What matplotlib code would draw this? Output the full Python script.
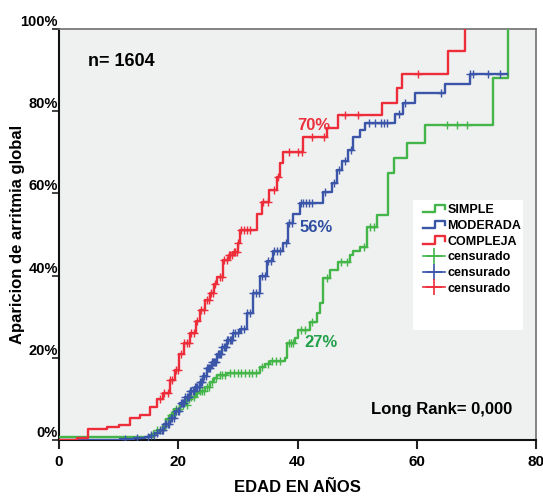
import numpy as np
import matplotlib
matplotlib.use("Agg")
import matplotlib.pyplot as plt
from matplotlib.lines import Line2D
from matplotlib.patches import Rectangle
from matplotlib.legend_handler import HandlerBase

plt.rcParams['font.family'] = ['Liberation Sans', 'DejaVu Sans']
plt.rcParams['font.weight'] = 'bold'

# ---------------- data ----------------
simple_age = [0, 15.6, 16.4, 17.4, 18.0, 18.6, 19.3, 20.3, 21.5, 22, 23, 23.6, 24.5, 25.3, 26, 26.5,
              28.2, 33.7, 34.5, 35.4, 37.9, 38.2, 39.6, 40.1, 42.1, 43.3, 43.8, 44.3, 45.5, 46.8,
              48.8, 49.3, 50.5, 51.7, 53.3, 55.2, 56.2, 58.4, 61.4, 72.8, 75.3]
simple_pct = [0.7, 1.5, 2.5, 3.5, 5, 6, 7.5, 8.5, 10, 10.5, 11.5, 12, 13, 14, 15, 15.8,
              16.3, 17.8, 18.5, 19.3, 20, 23.6, 24.8, 26.8, 28.7, 31, 33.3, 39.4, 41.4, 43.3,
              45, 46, 47, 51.8, 54.7, 65, 68.6, 72.3, 76.6, 88, 100]
simple_cens = [15.8, 16.5, 17.2, 17.7, 18.2, 18.8, 19, 19.6, 20.2, 20.8, 21.4, 21.8, 22.2, 22.7,
               23.2, 23.7, 24, 24.4, 24.8, 25.2, 25.6, 26.3, 27, 27.4, 27.8, 28.6, 29.4, 30,
               30.6, 31.2, 31.8, 32.4, 33, 34, 35, 35.8, 36.4, 37, 38.5, 38.9, 39.3, 40.6,
               41.2, 42.5, 45, 47.3, 48.3, 51.2, 52.2, 52.8, 65.1, 66.8, 68.5]

moderada_age = [0, 10.2, 12.5, 14.5, 15.3, 16.2, 16.9, 17.6, 18.6, 19.4, 20.3, 21.1, 22, 22.8,
                23.6, 24.2, 24.8, 25.6, 26.5, 27.3, 28.2, 29.2, 30.4, 31.5, 32.5, 33.7, 34.9,
                35.9, 37.6, 38.4, 39.2, 40.4, 44.3, 45.8, 46.6, 47.5, 48.5, 49.3, 50.5, 51.3,
                56.4, 57.7, 59.7, 64.7, 68.9, 75.1]
moderada_pct = [0, 0.3, 0.5, 0.8, 1.2, 1.8, 2.4, 3.8, 5.3, 7.0, 9.0, 10.5, 12, 13,
                14, 15.5, 17.5, 19, 21, 22.6, 24.3, 26, 27, 31, 35.7, 40, 43.5,
                46, 48, 52.8, 55, 57.7, 60.3, 62.5, 65.7, 68, 70.5, 73.7, 75.4, 77.2,
                79.3, 82, 84.4, 86.6, 89, 89]
moderada_cens = [11, 13, 15, 15.5, 16, 16.5, 17, 17.3, 17.5, 17.8, 18, 18.3, 18.5, 18.8, 19, 19.3,
                 19.7, 20, 20.2, 20.4, 20.6, 20.8, 21, 21.2, 21.4, 21.6, 21.8, 22, 22.2, 22.4,
                 22.6, 22.8, 23, 23.2, 23.4, 23.6, 23.8, 24, 24.2, 24.4, 24.6, 24.8, 25, 25.2,
                 25.4, 25.6, 25.8, 26, 26.2, 26.4, 26.6, 26.8, 27, 27.2, 27.4, 27.6, 27.8, 28,
                 28.2, 28.4, 28.6, 28.8, 29, 29.2, 29.6, 30, 30.5, 31, 31.5, 32, 32.5, 33,
                 33.5, 34, 34.5, 35, 35.5, 36, 36.5, 37, 38, 38.6, 39, 40.6, 41, 41.5, 42,
                 42.5, 44.6, 46.2, 47, 48, 49, 52, 53, 54, 54.5, 55, 57, 58, 64, 69, 69.5, 72, 74]

compleja_age = [0, 3, 4.9, 8, 10, 11.9, 13.6, 15.3, 16.5, 17.5, 18.6, 19.5, 20.2, 21, 22, 23,
                23.6, 24.5, 25.3, 26, 26.5, 27.5, 28.5, 29.2, 30, 30.4, 33.2, 34, 35.3, 36.5,
                37, 37.6, 41, 45, 46.8, 54.2, 56.7, 57.5, 65.2, 68.1]
compleja_pct = [0, 0.5, 2.7, 3.2, 3.6, 5.3, 6, 8, 10, 11.5, 14.6, 17, 21, 23.5, 26, 29,
                31.6, 34, 35.7, 38, 39.7, 43.8, 45, 45.7, 48, 51, 55, 58, 60.8, 64,
                67.4, 70, 73.7, 76, 79, 82, 85.6, 89, 94.6, 100]
compleja_cens = [17, 17.6, 18.2, 18.7, 19, 19.6, 20, 20.4, 21, 21.5, 21.8, 22.2, 22.6, 23.1, 23.8,
                 24.3, 24.8, 25.1, 25.5, 25.8, 26.2, 27, 27.3, 27.7, 28.2, 28.5, 28.7, 29, 29.3,
                 29.5, 29.8, 30.1, 30.6, 31, 31.5, 32, 34.2, 35.1, 36, 36.7, 38.5, 40, 40.8,
                 42.5, 44.5, 48, 50.2, 60.2]

groups = ['SIMPLE', 'MODERADA', 'COMPLEJA']
censor_label = 'censurado'
final_labels = ['27%', '56%', '70%']
n_text = 'n= 1604'
rank_text = 'Long Rank= 0,000'
x_ticks = [0, 20, 40, 60, 80]
y_ticks = [0, 20, 40, 60, 80, 100]
y_ticklabels = ['0%', '20%', '40%', '60%', '80%', '100%']

colors = ['#44b549', '#3b55a8', '#ee2d3b']
text_colors = ['#22a04a', '#2f4fa2', '#ec2f3b']

# ---------------- figure ----------------
W, H = 543, 497
fig = plt.figure(figsize=(W / 100, H / 100), dpi=100)
ax = fig.add_axes([59 / W, (H - 440) / H, 477 / W, 411 / H])
ax.set_facecolor('#eff0f0')

series = [(simple_age, simple_pct, simple_cens),
          (moderada_age, moderada_pct, moderada_cens),
          (compleja_age, compleja_pct, compleja_cens)]

step_handles = []
cens_handles = []
for (ages, pcts, cens), col in zip(series, colors):
    ln, = ax.step(ages, pcts, where='post', color=col, lw=1.7, zorder=3)
    step_handles.append(ln)
    a = np.asarray(ages)
    p = np.asarray(pcts)
    idx = np.searchsorted(a, np.asarray(cens), side='right') - 1
    ax.plot(cens, p[idx], linestyle='none', marker='+', markersize=5.5,
            markeredgewidth=1.0, color=col, zorder=4)
    cens_handles.append(Line2D([], [], color=col, lw=1.2, marker='+',
                               markersize=11, markeredgewidth=1.2))

ax.set_xlim(0, 80)
ax.set_ylim(0, 100)
ax.set_xticks(x_ticks)
ax.set_xticklabels([str(v) for v in x_ticks], fontsize=11, fontweight='bold')
ax.set_yticks(y_ticks)
ax.set_yticklabels(y_ticklabels, fontsize=10.5, fontweight='bold', va='bottom')
ax.tick_params(axis='y', length=5, width=1.2, pad=-4.3, color='#222222')
ax.tick_params(axis='x', length=6.5, width=1.5, pad=4.5, color='#222222')

for s in ['left', 'bottom']:
    ax.spines[s].set_color('#111111')
    ax.spines[s].set_linewidth(1.5)
for s in ['top', 'right']:
    ax.spines[s].set_color('#6f6f6f')
    ax.spines[s].set_linewidth(1.2)

ax.set_xlabel('EDAD EN AÑOS', fontsize=12, fontweight='bold', labelpad=8)
ax.set_ylabel('Aparicion de arritmia global', fontsize=12, fontweight='bold')
ax.yaxis.set_label_coords(-0.071, 0.5)

ax.text(4.9, 92, n_text, fontsize=13, fontweight='bold', va='center', ha='left')
ax.text(76.1, 7.3, rank_text, fontsize=12, fontweight='bold', va='center', ha='right')
ax.text(41.1, 23.8, final_labels[0], color=text_colors[0], fontsize=12, fontweight='bold', va='center')
ax.text(40.4, 51.6, final_labels[1], color=text_colors[1], fontsize=12, fontweight='bold', va='center')
ax.text(39.9, 76.6, final_labels[2], color=text_colors[2], fontsize=12, fontweight='bold', va='center')

# legend
ax.add_patch(Rectangle((0.742, 0.268), 0.231, 0.316, transform=ax.transAxes,
                       facecolor='white', edgecolor='none', zorder=5))


class StepHandler(HandlerBase):
    def create_artists(self, legend, orig_handle, xdescent, ydescent, width, height,
                       fontsize, trans):
        xs = np.array([0, 0.55, 0.55, 1.0, 1.0]) * width - xdescent
        ys = np.array([0.1, 0.1, 0.95, 0.95, 0.45]) * height - ydescent
        ln = Line2D(xs, ys, color=orig_handle.get_color(), lw=1.7, transform=trans)
        return [ln]


handles = step_handles + cens_handles
labels = groups + [censor_label] * 3
hmap = {h: StepHandler() for h in step_handles}
leg = ax.legend(handles, labels, handler_map=hmap, loc='upper left',
                bbox_to_anchor=(0.763, 0.574), frameon=False, borderpad=0,
                borderaxespad=0, handlelength=1.75, handletextpad=0.2,
                labelspacing=0.3, numpoints=1,
                prop={'size': 9, 'weight': 'bold'})
leg.set_zorder(6)

fig.savefig('out.png', dpi=100)
